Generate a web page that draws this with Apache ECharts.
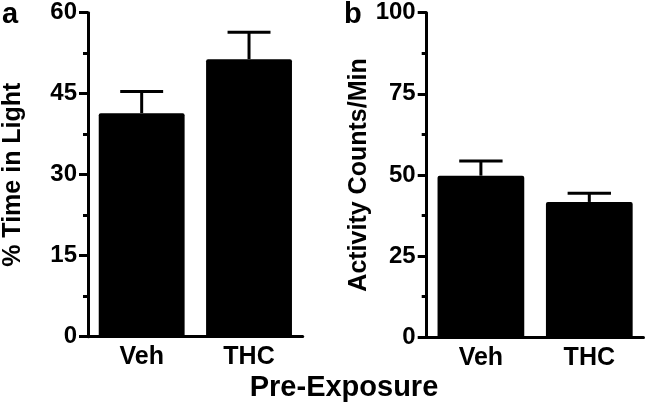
<!DOCTYPE html>
<html>
<head>
<meta charset="utf-8">
<script src="https://cdn.jsdelivr.net/npm/echarts@6/dist/echarts.min.js"></script>
<style>
html,body{margin:0;padding:0;background:#fff;}
#chart{width:645px;height:409px;}
</style>
</head>
<body>
<div id="chart"></div>
<script>
// ---- data ----
const categories = ['Veh', 'THC'];
const timeInLight = [41.4, 51.4];
const timeInLightSem = [4.0, 5.0];
const activityCounts = [49.8, 41.7];
const activitySem = [4.5, 2.7];
const timeTicks = [0, 15, 30, 45, 60];
const activityTicks = [0, 25, 50, 75, 100];
const panelLabels = ['a', 'b'];
const yTitles = ['% Time in Light', 'Activity Counts/Min'];
const xTitle = 'Pre-Exposure';

const FONT = "'Liberation Sans', Arial, Helvetica, sans-serif";

function yAxis(idx, ticks, name, gap) {
  const step = ticks[1] - ticks[0];
  return {
    gridIndex: idx, type: 'value',
    min: ticks[0], max: ticks[ticks.length - 1], interval: step,
    name: name, nameLocation: 'middle', nameGap: gap,
    nameTextStyle: { fontFamily: FONT, fontWeight: 'bold', fontSize: 25, color: '#000' },
    axisLine: { show: true, lineStyle: { color: '#000', width: 3 } },
    axisTick: { show: true, length: 9, lineStyle: { color: '#000', width: 3 } },
    minorTick: { show: true, splitNumber: 2, length: 5, lineStyle: { color: '#000', width: 3 } },
    axisLabel: { fontFamily: FONT, fontWeight: 'bold', fontSize: 24, color: '#000', margin: 11 },
    splitLine: { show: false }
  };
}
function xAxis(idx) {
  return {
    gridIndex: idx, type: 'category', data: categories,
    axisLine: { show: true, lineStyle: { color: '#000', width: 3 } },
    axisTick: { show: false },
    axisLabel: { fontFamily: FONT, fontWeight: 'bold', fontSize: 25, color: '#000', margin: 8 }
  };
}
function errorSeries(idx, means, sems) {
  return {
    type: 'custom', xAxisIndex: idx, yAxisIndex: idx, z: 1,
    data: means.map((m, i) => [i, m, m + sems[i]]),
    renderItem: function (params, api) {
      const x = api.value(0);
      const base = api.coord([x, api.value(1)]);
      const top = api.coord([x, api.value(2)]);
      const band = api.size([1, 0])[0];
      const half = band * 0.2;
      const style = { stroke: '#000', lineWidth: 3 };
      return {
        type: 'group',
        children: [
          { type: 'line', shape: { x1: base[0], y1: base[1], x2: top[0], y2: top[1] }, style: style },
          { type: 'line', shape: { x1: top[0] - half, y1: top[1], x2: top[0] + half, y2: top[1] }, style: style }
        ]
      };
    }
  };
}
function barSeries(idx, vals) {
  return {
    type: 'bar', xAxisIndex: idx, yAxisIndex: idx, data: vals,
    barWidth: '80%', z: 2,
    itemStyle: { color: '#000', borderRadius: 2 }
  };
}

const chart = echarts.init(document.getElementById('chart'));
chart.setOption({
  animation: false,
  backgroundColor: '#fff',
  grid: [
    { left: 88, top: 12.7, width: 214.7, height: 324, containLabel: false },
    { left: 426.7, top: 12.7, width: 216.8, height: 324.6, containLabel: false }
  ],
  xAxis: [xAxis(0), xAxis(1)],
  yAxis: [yAxis(0, timeTicks, yTitles[0], 62), yAxis(1, activityTicks, yTitles[1], 52)],
  series: [
    barSeries(0, timeInLight), errorSeries(0, timeInLight, timeInLightSem),
    barSeries(1, activityCounts), errorSeries(1, activityCounts, activitySem)
  ],
  graphic: [
    { type: 'text', left: 2, top: 0, style: { text: panelLabels[0], font: 'bold 29px ' + FONT, fill: '#000' } },
    { type: 'text', left: 344, top: 0, style: { text: panelLabels[1], font: 'bold 29px ' + FONT, fill: '#000' } },
    { type: 'text', x: 344, y: 388, style: { text: xTitle, font: 'bold 29px ' + FONT, fill: '#000', align: 'center', verticalAlign: 'middle' } }
  ]
});
</script>
</body>
</html>
